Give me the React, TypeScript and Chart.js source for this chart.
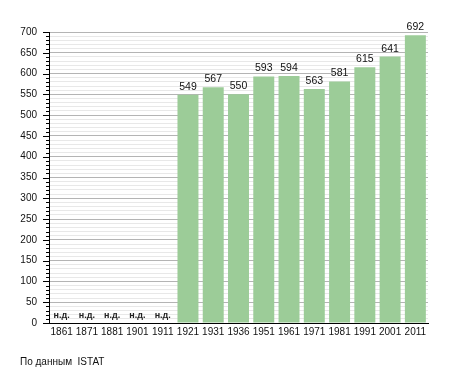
import React, { useEffect, useRef } from "react";
import { Chart, registerables } from "chart.js";

Chart.register(...registerables);

const categories = ["1861", "1871", "1881", "1901", "1911", "1921", "1931", "1936", "1951", "1961", "1971", "1981", "1991", "2001", "2011"];
const population: (number | null)[] = [null, null, null, null, null, 549, 567, 550, 593, 594, 563, 581, 615, 641, 692];
const missingLabel = "н.д.";
const sourceNote = "По данным  ISTAT";
const yMin = 0;
const yMax = 700;
const yMinorStep = 10;
const yMajorStep = 50;

const FONT = "'Liberation Sans', Arial, sans-serif";

export default function App() {
  const ref = useRef<HTMLCanvasElement | null>(null);

  useEffect(() => {
    if (!ref.current) return;

    const decorations = {
      id: "decorations",
      afterDatasetsDraw(chart: any) {
        const ctx = chart.ctx;
        const yScale = chart.scales.y;
        const area = chart.chartArea;
        const meta = chart.getDatasetMeta(0);
        ctx.save();
        ctx.textAlign = "center";
        meta.data.forEach((bar: any, i: number) => {
          const v = population[i];
          if (v === null) {
            ctx.font = `bold 9px ${FONT}`;
            ctx.fillStyle = "#222";
            ctx.textBaseline = "alphabetic";
            ctx.fillText(missingLabel, bar.x, yScale.getPixelForValue(0) - 5);
          } else {
            ctx.font = `10.5px ${FONT}`;
            ctx.fillStyle = "#111";
            ctx.textBaseline = "alphabetic";
            ctx.fillText(String(v), bar.x, bar.y - 5);
          }
        });
        ctx.strokeStyle = "#000";
        ctx.lineWidth = 1;
        for (let v = yMin; v <= yMax; v += yMinorStep) {
          const y = Math.round(yScale.getPixelForValue(v)) + 0.5;
          const len = v % yMajorStep === 0 ? 6 : 3;
          ctx.beginPath();
          ctx.moveTo(area.left - len, y);
          ctx.lineTo(area.left, y);
          ctx.stroke();
        }
        ctx.font = `10px ${FONT}`;
        ctx.fillStyle = "#111";
        ctx.textAlign = "left";
        ctx.textBaseline = "middle";
        ctx.fillText(sourceNote, 20, 362);
        ctx.restore();
      },
    };

    const chart = new Chart(ref.current, {
      type: "bar",
      data: {
        labels: categories,
        datasets: [
          {
            data: population as any,
            backgroundColor: "#9ccc98",
            borderWidth: 0,
            barPercentage: 0.83,
            categoryPercentage: 1,
          },
        ],
      },
      options: {
        responsive: false,
        animation: false,
        layout: { padding: { top: 32, right: 27, left: 0, bottom: 0 } },
        plugins: {
          legend: { display: false },
          tooltip: { enabled: false },
        },
        scales: {
          x: {
            type: "category",
            grid: { display: false, drawTicks: false },
            border: { display: true, color: "#000", width: 1 },
            ticks: {
              color: "#111",
              font: { family: FONT, size: 10 },
              padding: 3,
              maxRotation: 0,
              autoSkip: false,
            },
            afterFit(scale: any) {
              scale.height = 50;
            },
          },
          y: {
            type: "linear",
            min: yMin,
            max: yMax,
            grid: {
              drawTicks: false,
              color: (ctx: any) =>
                ctx.tick && ctx.tick.value % yMajorStep === 0 ? "#b4b4b4" : "#e8e8e8",
              lineWidth: 1,
            },
            border: { display: true, color: "#000", width: 1 },
            ticks: {
              stepSize: yMinorStep,
              autoSkip: false,
              maxTicksLimit: 1000,
              color: "#111",
              font: { family: FONT, size: 10 },
              padding: 12,
              callback: (v: any) => (Number(v) % yMajorStep === 0 ? String(v) : ""),
            },
            afterFit(scale: any) {
              scale.width = 49;
            },
          },
        },
      },
      plugins: [decorations],
    });

    return () => chart.destroy();
  }, []);

  return (
    <div style={{ position: "absolute", left: 0, top: 0, width: 455, height: 373, background: "#fff" }}>
      <canvas ref={ref} width={455} height={373} style={{ width: 455, height: 373 }} />
    </div>
  );
}
